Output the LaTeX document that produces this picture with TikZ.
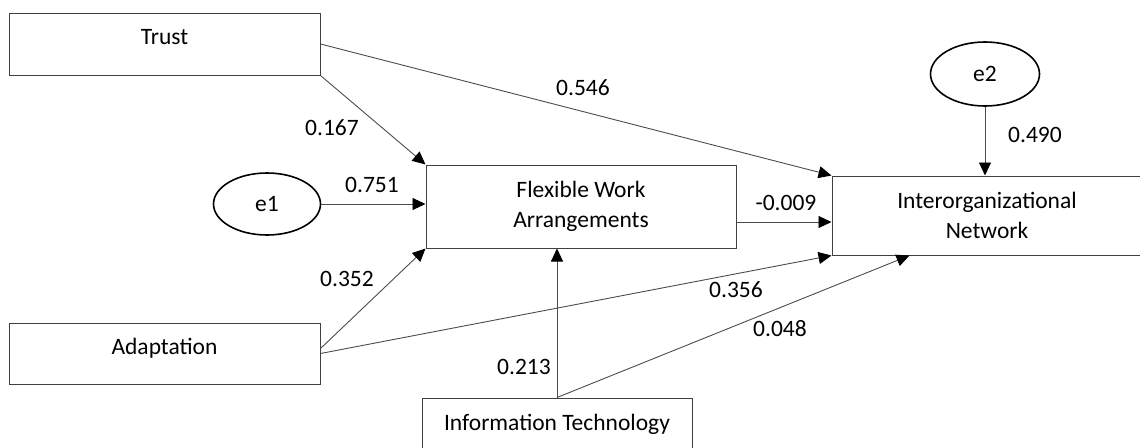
\documentclass[tikz,border=0pt]{standalone}
\usepackage{fontspec}
\setmainfont{Carlito}
\usetikzlibrary{shapes}
\usetikzlibrary{arrows.meta}
\tikzset{
	var box/.style={rectangle,draw=black!75,line width=1pt,inner sep=0pt,align=center},
	top text/.style={text height=16pt,text depth=15pt},
	err node/.style={ellipse,draw=black,line width=1.6pt,inner sep=0pt},
	coef/.style={inner sep=0pt}
}

\begin{document}
\begin{tikzpicture}[x=1pt,y=-1pt,->,>={Triangle[length=13pt,width=12pt,color=black]}
				    ,line width=0.9pt,draw=black!70
				    ,font=\fontsize{23.5}{30}\selectfont
					]
	\useasboundingbox (0,0) rectangle (1140,447);
	% variables
	\node [var box,top text,minimum width=311pt,minimum height=62pt] (trust) at (164.5,44) {Trust};
	\node [var box,top text,minimum width=311pt,minimum height=61pt] (adapt) at (164.5,353.5) {Adaptation};
	\node [err node,minimum width=107pt,minimum height=62pt] (e1) at (267,204) {e1};
	\node [var box,minimum width=310pt,minimum height=83pt] (fwa) at (581,206.5) {Flexible Work\\Arrangements};
	\node [var box,minimum width=310pt,minimum height=79pt] (ion) at (987,215.5) {Interorganizational\\Network};
	\node [err node,minimum width=109pt,minimum height=64pt] (e2) at (985,74) {e2};
	\node [var box,minimum width=270pt,minimum height=52pt] (it) at (557,424) {Information Technology};
	\coordinate (fwaout) at ([yshift=-15.5pt]fwa.east);
	% paths
	\draw (trust.south east) -- (fwa.north west);
	\draw (trust.east) -- (ion.north west);
	\draw (e1.east) -- (e1.east -| fwa.west);
	\draw ([yshift=5pt]adapt.east) -- (fwa.south west);
	\draw (adapt.east) -- (ion.south west);
	\draw (fwaout) -- (fwaout -| ion.west);
	\draw (it.north) -- (it.north |- fwa.south);
	\draw (it.north) -- ([xshift=78pt]ion.south west);
	\draw (e2.south) -- (e2.south |- ion.north);
	% coefficients
	\node [coef] (c1) at (332,128) {0.167};
	\node [coef] (c2) at (372,185) {0.751};
	\node [coef] (c3) at (583,88) {0.546};
	\node [coef] (c4) at (786,203) {-0.009};
	\node [coef] (c5) at (1035,135) {0.490};
	\node [coef] (c6) at (347,279) {0.352};
	\node [coef] (c7) at (736,290) {0.356};
	\node [coef] (c8) at (780,329) {0.048};
	\node [coef] (c9) at (524,367) {0.213};
\end{tikzpicture}
\end{document}
